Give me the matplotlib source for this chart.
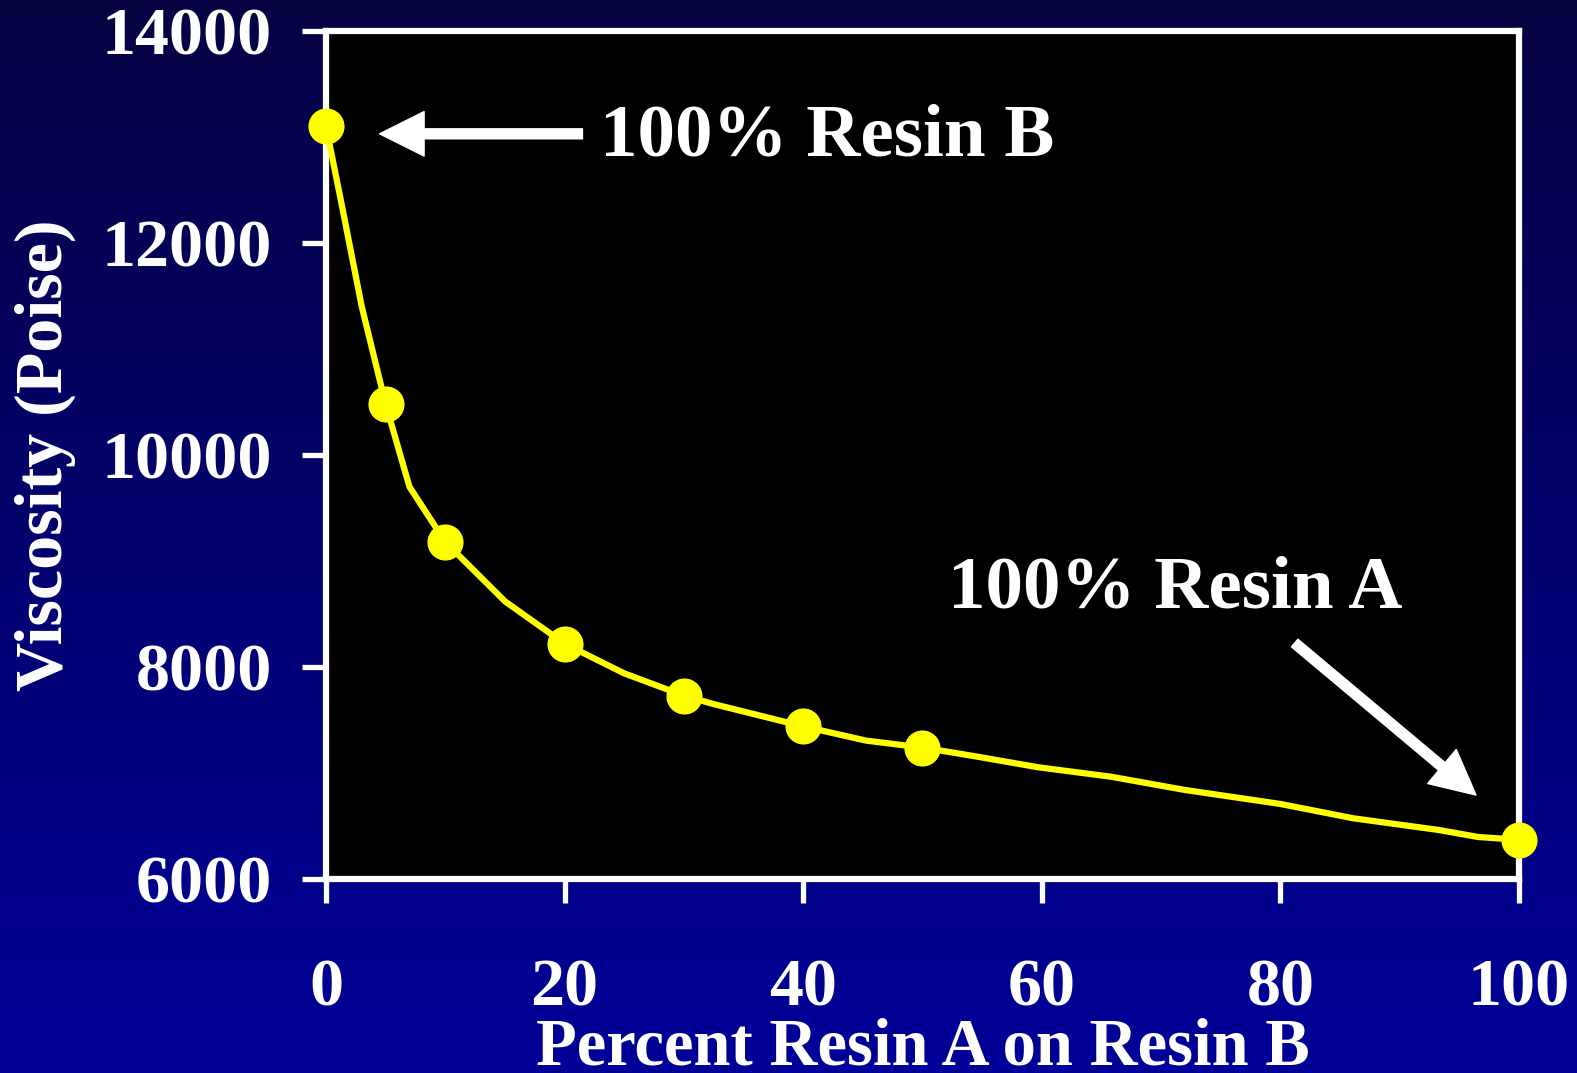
import numpy as np
import matplotlib
matplotlib.use("Agg")
import matplotlib.pyplot as plt

# measured samples (percent resin A, viscosity in poise)
pct = [0, 5, 10, 20, 30, 40, 50, 100]
visc = [13100, 10480, 9180, 8220, 7730, 7440, 7240, 6370]

# the drawn curve passes through these vertices
curve_x = [0, 1.2, 3, 5, 7, 10, 15, 20, 25, 30, 32.5, 40, 45.3, 50, 54.3,
           59.7, 65.8, 72, 80, 86.1, 93.3, 96.6, 100]
curve_y = [13100, 12430, 11400, 10480, 9700, 9180, 8620, 8220, 7940, 7730,
           7650, 7440, 7305, 7240, 7160, 7054, 6965, 6840, 6708, 6573, 6462,
           6396, 6370]

xticks = [0, 20, 40, 60, 80, 100]
yticks = [6000, 8000, 10000, 12000, 14000]

plt.rcParams['font.family'] = ['Liberation Serif', 'DejaVu Serif']
plt.rcParams['font.weight'] = 'bold'

fig = plt.figure(figsize=(15.77, 10.73), dpi=100)

# gradient background
bg = fig.add_axes([0, 0, 1, 1], zorder=-10)
top = np.array([6, 4, 66]) / 255
bot = np.array([0, 0, 153]) / 255
t = np.linspace(0, 1, 256)[:, None]
grad = top + (bot - top) * t
bg.imshow(grad[:, None, :], aspect='auto', extent=[0, 1, 0, 1])
bg.axis('off')

ax = fig.add_axes([0.2067, 0.1808, 0.7565, 0.7903])
ax.set_facecolor('black')

ax.plot(curve_x, curve_y, color='#ffff00', lw=4.5, zorder=3, clip_on=False)
ax.plot(pct, visc, 'o', color='#ffff00', markersize=25, zorder=4, clip_on=False)

ax.set_xlim(0, 100)
ax.set_ylim(6000, 14000)
ax.set_xticks(xticks)
ax.set_yticks(yticks)

for s in ax.spines.values():
    s.set_color('white')
    s.set_linewidth(4.5)

ax.tick_params(axis='both', colors='white', width=3.8, length=17,
               labelsize=49, direction='out')
ax.tick_params(axis='x', pad=40)
ax.tick_params(axis='y', pad=22)

ax.set_xlabel('Percent Resin A on Resin B', color='white', fontsize=48,
              fontweight='bold', labelpad=-1)
ax.set_ylabel('Viscosity (Poise)', color='white', fontsize=49,
              fontweight='bold', labelpad=18)

# annotations
ax.annotate('', xy=(4.5, 13030), xytext=(21.5, 13030),
            arrowprops=dict(arrowstyle='simple,head_length=0.8,head_width=0.8,tail_width=0.18',
                            color='white', mutation_scale=40, shrinkA=0, shrinkB=0))
ax.text(23.0, 12821, '100% Resin B', color='white', fontsize=54,
        fontweight='bold', va='baseline', ha='left')

ax.annotate('', xy=(96.4, 6792), xytext=(81.2, 8226),
            arrowprops=dict(arrowstyle='simple,head_length=0.8,head_width=0.8,tail_width=0.18',
                            color='white', mutation_scale=40, shrinkA=0, shrinkB=0))
ax.text(52.1, 8566, '100% Resin A', color='white', fontsize=54,
        fontweight='bold', va='baseline', ha='left')

fig.savefig('out.png', dpi=100)
